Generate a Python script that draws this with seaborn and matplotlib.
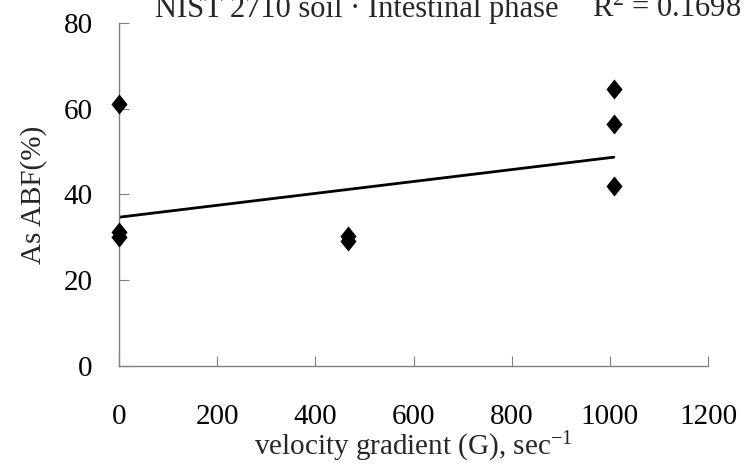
import matplotlib
matplotlib.use("Agg")
import matplotlib.pyplot as plt
import seaborn as sns
import numpy as np
import pandas as pd

# ---- data ----
velocity_gradient = [0, 0, 0, 467, 467, 1008, 1008, 1008]
as_abf = [61.2, 31.2, 30.0, 30.3, 29.1, 64.6, 56.4, 42.0]
trend_x = [0, 1008]
trend_y = [34.7, 48.7]
x_ticks = [0, 200, 400, 600, 800, 1000, 1200]
y_ticks = [0, 20, 40, 60, 80]
title_text = "NIST 2710 soil · Intestinal phase"
r2_text = "R$^{2}$ = 0.1698"
x_label = "velocity gradient (G), sec$^{-1}$"
y_label = "As ABF(%)"

df = pd.DataFrame({"G": velocity_gradient, "ABF": as_abf})
trend = pd.DataFrame({"G": trend_x, "ABF": trend_y})

sns.set_style("ticks")
plt.rcParams["font.family"] = ["Liberation Serif", "DejaVu Serif"]
plt.rcParams["mathtext.fontset"] = "custom"
plt.rcParams["mathtext.rm"] = "Liberation Serif"
plt.rcParams["mathtext.it"] = "Liberation Serif:italic"

fig = plt.figure(figsize=(7.44, 4.68), dpi=100)
ax = fig.add_axes([119 / 744, 1 - 366 / 468, (708 - 119) / 744, (366 - 23) / 468])

diamond = [(0, 1), (0.8, 0), (0, -1), (-0.8, 0), (0, 1)]
sns.scatterplot(data=df, x="G", y="ABF", ax=ax, marker=diamond, s=210,
                color="black", linewidth=0, clip_on=False, zorder=3)
sns.lineplot(data=trend, x="G", y="ABF", ax=ax, color="black", lw=2,
             zorder=2)

ax.set_xlim(0, 1200)
ax.set_ylim(0, 80)
ax.set_xticks(x_ticks)
ax.set_yticks(y_ticks)
ax.set_xlabel(x_label, fontsize=21, labelpad=0)
ax.set_ylabel(y_label, fontsize=21, labelpad=12)

for s in ["top", "right"]:
    ax.spines[s].set_visible(False)
for s in ["left", "bottom"]:
    ax.spines[s].set_color("#808080")
    ax.spines[s].set_linewidth(1)

ax.tick_params(axis="both", direction="in", length=7, width=0.8,
               color="#808080", labelsize=21, labelcolor="black")
ax.tick_params(axis="x", pad=27)
ax.tick_params(axis="y", pad=19)

fig.text(155 / 744, 1 - 17 / 468, title_text, fontsize=22, ha="left",
         va="baseline")
fig.text(592 / 744, 1 - 17 / 468, r2_text, fontsize=22, ha="left",
         va="baseline")

fig.savefig("out.png", dpi=100)
